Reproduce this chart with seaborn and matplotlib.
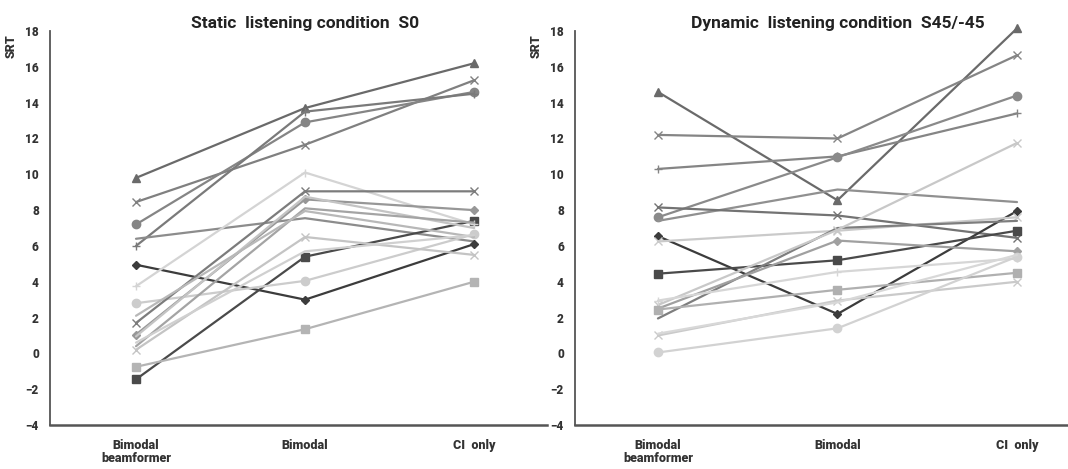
import seaborn as sns
import matplotlib.pyplot as plt
import pandas as pd
from matplotlib.transforms import blended_transform_factory

# Стиль и шрифт
sns.set_style("white")
plt.rcParams['font.family'] = ['Roboto', 'DejaVu Sans']
plt.rcParams['font.weight'] = 'bold'

# Данные
conditions = ['Bimodal\nbeamformer', 'Bimodal', 'CI  only']

s0_beamformer = [9.8, 8.45, 7.2, 6.0, 6.4, 4.95, -1.45, -0.75, 2.8, 3.75, 1.7, 1.05, 0.95, 0.4, 2.1, 0.2, 0.6]
s0_bimodal = [13.7, 11.65, 12.9, 13.5, 7.55, 3.0, 5.4, 1.35, 4.05, 10.1, 9.05, 8.6, 8.75, 8.1, 7.95, 6.5, 5.7]
s0_ci_only = [16.2, 15.25, 14.6, 14.5, 6.25, 6.1, 7.4, 4.0, 6.65, 7.2, 9.05, 8.0, 7.0, 7.3, 6.5, 5.5, 6.6]

s45_beamformer = [14.6, 12.2, 10.3, 7.6, 7.4, 8.15, 6.55, 6.25, 4.45, 1.95, 2.5, 2.7, 2.95, 2.45, 1.0, 0.05, 1.1]
s45_bimodal = [8.55, 12.0, 11.0, 10.95, 9.15, 7.7, 2.2, 6.85, 5.2, 7.0, 6.3, 6.9, 4.55, 3.55, 2.95, 1.4, 2.85]
s45_ci_only = [18.15, 16.65, 13.4, 14.4, 8.45, 6.45, 7.95, 7.6, 6.85, 7.4, 5.7, 11.75, 5.3, 4.5, 4.0, 5.4, 5.5]

# Стили линий (маркер, оттенок серого)
s0_markers = ['^', 'x', 'o', '+', '', 'D', 's', 's', 'o', '+', 'x', 'D', '', '', '', 'x', '']
s0_grays = ['#6a6a6a', '#808080', '#858585', '#7a7a7a', '#8c8c8c', '#3c3c3c', '#4a4a4a', '#b4b4b4',
            '#cccccc', '#d4d4d4', '#7c7c7c', '#979797', '#c4c4c4', '#a4a4a4', '#b8b8b8', '#c4c4c4', '#d0d0d0']
s45_markers = ['^', 'x', '+', 'o', '', 'x', 'D', 'x', 's', '', 'D', 'x', '+', 's', 'x', 'o', '']
s45_grays = ['#6a6a6a', '#858585', '#858585', '#8a8a8a', '#909090', '#737373', '#3c3c3c', '#cacaca',
             '#4a4a4a', '#7e7e7e', '#a0a0a0', '#c8c8c8', '#d6d6d6', '#b0b0b0', '#cacaca', '#d2d2d2', '#d8d8d8']

marker_size = {'^': 6, 'x': 6, 'o': 6, '+': 6, 'D': 4, 's': 5.5}

fig = plt.figure(figsize=(10.68, 4.69), dpi=100)
ax1 = fig.add_axes([0.0468, 0.0938, 0.4654, 0.840])
ax2 = fig.add_axes([0.5384, 0.0938, 0.4616, 0.840])


def draw_panel(ax, bf, bi, ci, markers, grays, title, xlim):
    for i in range(len(bf)):
        df = pd.DataFrame({'condition': conditions, 'SRT': [bf[i], bi[i], ci[i]]})
        m = markers[i] or None
        sns.lineplot(data=df, x='condition', y='SRT', sort=False, ax=ax,
                     color=grays[i], lw=1.6, marker=m,
                     ms=marker_size.get(markers[i], 0), mew=1.0,
                     mec=grays[i], errorbar=None, clip_on=False)
    ax.set_xlim(*xlim)
    ax.set_ylim(-4, 18)
    ax.set_yticks(range(-4, 19, 2))
    ax.set_xticks([0.5, 1.5], minor=True)
    ax.tick_params(axis='x', which='major', length=0, pad=10, labelsize=9, colors='#333333')
    ax.tick_params(axis='x', which='minor', direction='in', length=11, width=1.6, color='#555555')
    ax.tick_params(axis='y', direction='out', length=3, width=1.2, pad=5,
                   labelsize=8.5, color='#555555', labelcolor='#333333')
    for lab in ax.get_xticklabels():
        lab.set_fontweight('heavy')
        lab.set_linespacing(1.0)
    for lab in ax.get_yticklabels():
        lab.set_fontweight('heavy')
    sns.despine(ax=ax)
    ax.spines['left'].set_color('#555555')
    ax.spines['left'].set_linewidth(1.3)
    ax.spines['bottom'].set_color('#555555')
    ax.spines['bottom'].set_linewidth(1.8)
    ax.set_xlabel('')
    ax.set_ylabel('SRT', fontsize=9, fontweight='heavy', color='#333333')
    ax.yaxis.set_label_coords(-0.066, 0.962)
    tr = blended_transform_factory(ax.transData, ax.transAxes)
    ax.text(1, 1.02, title, transform=tr, ha='center', va='center',
            fontsize=12.5, fontweight='bold', color='#222222')


draw_panel(ax1, s0_beamformer, s0_bimodal, s0_ci_only, s0_markers, s0_grays,
           'Static  listening condition  S0', (-0.509, 2.432))
draw_panel(ax2, s45_beamformer, s45_bimodal, s45_ci_only, s45_markers, s45_grays,
           'Dynamic  listening condition  S45/-45', (-0.462, 2.284))

fig.savefig('out.png', dpi=100)
